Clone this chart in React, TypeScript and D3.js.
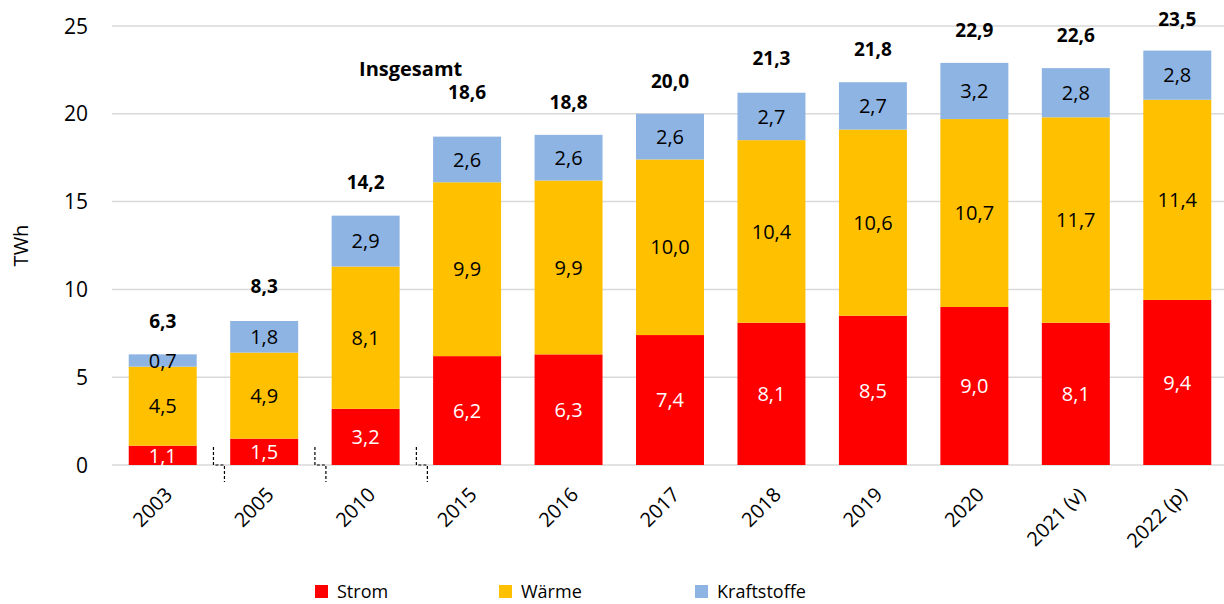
import React from 'react';
import * as d3 from 'd3';

const years = ['2003', '2005', '2010', '2015', '2016', '2017', '2018', '2019', '2020', '2021 (v)', '2022 (p)'];
const strom = [1.1, 1.5, 3.2, 6.2, 6.3, 7.4, 8.1, 8.5, 9.0, 8.1, 9.4];
const waerme = [4.5, 4.9, 8.1, 9.9, 9.9, 10.0, 10.4, 10.6, 10.7, 11.7, 11.4];
const kraftstoffe = [0.7, 1.8, 2.9, 2.6, 2.6, 2.6, 2.7, 2.7, 3.2, 2.8, 2.8];
const totals = [6.3, 8.3, 14.2, 18.6, 18.8, 20.0, 21.3, 21.8, 22.9, 22.6, 23.5];
const yTicks = [0, 5, 10, 15, 20, 25];
const seriesNames = ['Strom', 'Wärme', 'Kraftstoffe'];
const colors = ['#FF0000', '#FFC000', '#8EB4E3'];
const labelColors = ['#FFFFFF', '#000000', '#000000'];
// axis breaks after these categories
const breaksAfter = ['2003', '2005', '2010'];

const W = 1224;
const H = 604;
const font = "'Open Sans', sans-serif";

const fmt = (v: number) => v.toFixed(1).replace('.', ',');

export default function App() {
  const x = d3.scaleBand().domain(years).range([112, 1228]).paddingInner(0.33).paddingOuter(0.165);
  const y = d3.scaleLinear().domain([0, 25]).range([465, 26]);

  const rows = years.map((yr, i) => ({ year: yr, s0: strom[i], s1: waerme[i], s2: kraftstoffe[i] }));
  const stack = d3.stack<any>().keys(['s0', 's1', 's2'])(rows);
  const step = x.step();
  const cx = (yr: string) => x(yr)! + x.bandwidth() / 2;

  return (
    <svg width={W} height={H} style={{ position: 'absolute', left: 0, top: 0 }} fontFamily={font}>
      <rect width={W} height={H} fill="#fff" />
      {yTicks.map(t => (
        <g key={t}>
          <line x1={112} x2={W} y1={y(t)} y2={y(t)} stroke="#D9D9D9" strokeWidth={1.5} />
          <text x={88} y={y(t)} dy="0.36em" textAnchor="end" fontSize={21} fill="#000">{t}</text>
        </g>
      ))}
      <text transform={`translate(28,${y(12.5)}) rotate(-90)`} textAnchor="middle" fontSize={20} fill="#000">TWh</text>

      {stack.map((layer, si) => (
        <g key={si}>
          {layer.map((d, i) => (
            <g key={i}>
              <rect x={x(years[i])} width={x.bandwidth()} y={y(d[1])} height={y(d[0]) - y(d[1])} fill={colors[si]} />
              <text x={cx(years[i])} y={(y(d[0]) + y(d[1])) / 2} dy="0.36em"
                textAnchor="middle" fontSize={20} fill={labelColors[si]}>{fmt(d[1] - d[0])}</text>
            </g>
          ))}
        </g>
      ))}

      {totals.map((t, i) => (
        <text key={i} x={cx(years[i])} y={y(t) - (years[i] === '2015' ? 46 : 33)} dy="0.36em"
          textAnchor="middle" fontSize={19} fontWeight="bold" fill="#000">{fmt(t)}</text>
      ))}
      <text x={cx('2010') + 45} y={y(totals[3]) - 70} dy="0.36em" textAnchor="middle"
        fontSize={20} fontWeight="bold" fill="#000">Insgesamt</text>

      {breaksAfter.map(b => {
        const bx = x(b)! + x.bandwidth() + (step - x.bandwidth()) / 2;
        const y0 = y(0);
        return (
          <path key={b} d={`M${bx},${y0 - 18}V${y0}H${bx + 11}V${y0 + 17}`} fill="none" stroke="#000"
            strokeWidth={1.2} strokeDasharray="3,2" />
        );
      })}

      {years.map(yr => (
        <text key={yr} transform={`translate(${cx(yr) + 6},${y(0) + 26}) rotate(-45)`}
          textAnchor="end" dy="0.35em" fontSize={20} fill="#000">{yr}</text>
      ))}

      {seriesNames.map((n, i) => {
        const lx = [315, 499, 695][i];
        return (
          <g key={n}>
            <rect x={lx} y={585} width={13} height={13} fill={colors[i]} />
            <text x={lx + 22} y={592} dy="0.36em" fontSize={18} fill="#000">{n}</text>
          </g>
        );
      })}
    </svg>
  );
}
